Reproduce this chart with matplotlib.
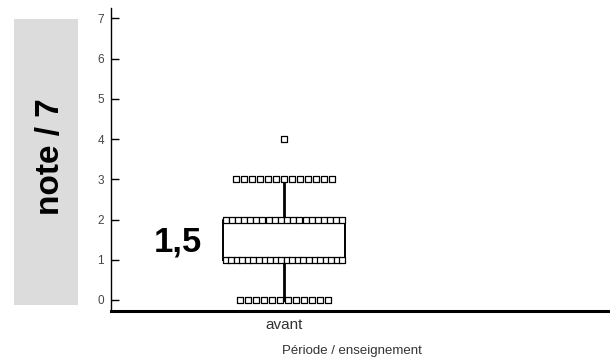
import numpy as np
import matplotlib.pyplot as plt
from matplotlib.patches import Rectangle

# Notes sur 7, groupe "avant"
categories = ['avant']
score_values = [0, 1, 2, 3, 4]
score_counts = [12, 22, 20, 13, 1]
y_ticks = [0, 1, 2, 3, 4, 5, 6, 7]

scores = np.repeat(score_values, score_counts)

fig = plt.figure(figsize=(6.1, 3.62), dpi=100)
ax = fig.add_axes([0.182, 0.141, 0.818, 0.837])

# boxplot without median line and caps; points drawn separately
ax.boxplot([scores], positions=[1], widths=0.70, whis=1.5, showfliers=False,
           boxprops=dict(color='black', linewidth=1.4),
           whiskerprops=dict(color='black', linewidth=2.0),
           capprops=dict(linewidth=0),
           medianprops=dict(linewidth=0))

# each note as a row of small open squares centred on the category
step = 0.046
half_max = 0.336
for v, n in zip(score_values, score_counts):
    if n > 1:
        sp = min(step, 2 * half_max / (n - 1))
    else:
        sp = 0
    xs = 1 + (np.arange(n) - (n - 1) / 2) * sp
    ax.scatter(xs, np.full(n, v), marker='s', s=15, facecolor='white',
               edgecolor='black', linewidth=0.9, zorder=3)

ax.set_xlim(0.005, 2.875)
ax.set_ylim(-0.274, 7.26)
ax.set_yticks(y_ticks)
ax.set_yticklabels([str(t) for t in y_ticks], fontsize=8.5, color='#444444',
                   family='Liberation Sans')
ax.tick_params(axis='y', direction='in', length=6, width=1, pad=5)
ax.set_xticks([1])
ax.set_xticklabels(categories, fontsize=11, color='#333333', family='Liberation Sans')
ax.tick_params(axis='x', length=0, pad=5)

for side in ['top', 'right']:
    ax.spines[side].set_visible(False)
ax.spines['left'].set_linewidth(1.0)
ax.spines['bottom'].set_linewidth(2.2)

fig.text(352 / 610, 1 - 351 / 362, 'Période / enseignement', fontsize=9.5,
         color='#333333', family='Liberation Sans', ha='center', va='center')

# label of the y axis on a grey panel
fig.patches.append(Rectangle((14 / 610, 1 - 305 / 362), 64 / 610, 286 / 362,
                             transform=fig.transFigure, facecolor='#dcdcdc',
                             edgecolor='none', zorder=0))
fig.text(51 / 610, 1 - 157 / 362, 'note / 7', rotation=90, fontsize=24,
         fontweight='bold', family='Liberation Sans', ha='center', va='center')

# median value written beside the box
med = np.median(scores)
ax.text(0.53, med - 0.05, f'{med:g}'.replace('.', ','), fontsize=25,
        fontweight='bold', family='Liberation Sans', ha='right', va='center')

fig.savefig('out.png', dpi=100)
